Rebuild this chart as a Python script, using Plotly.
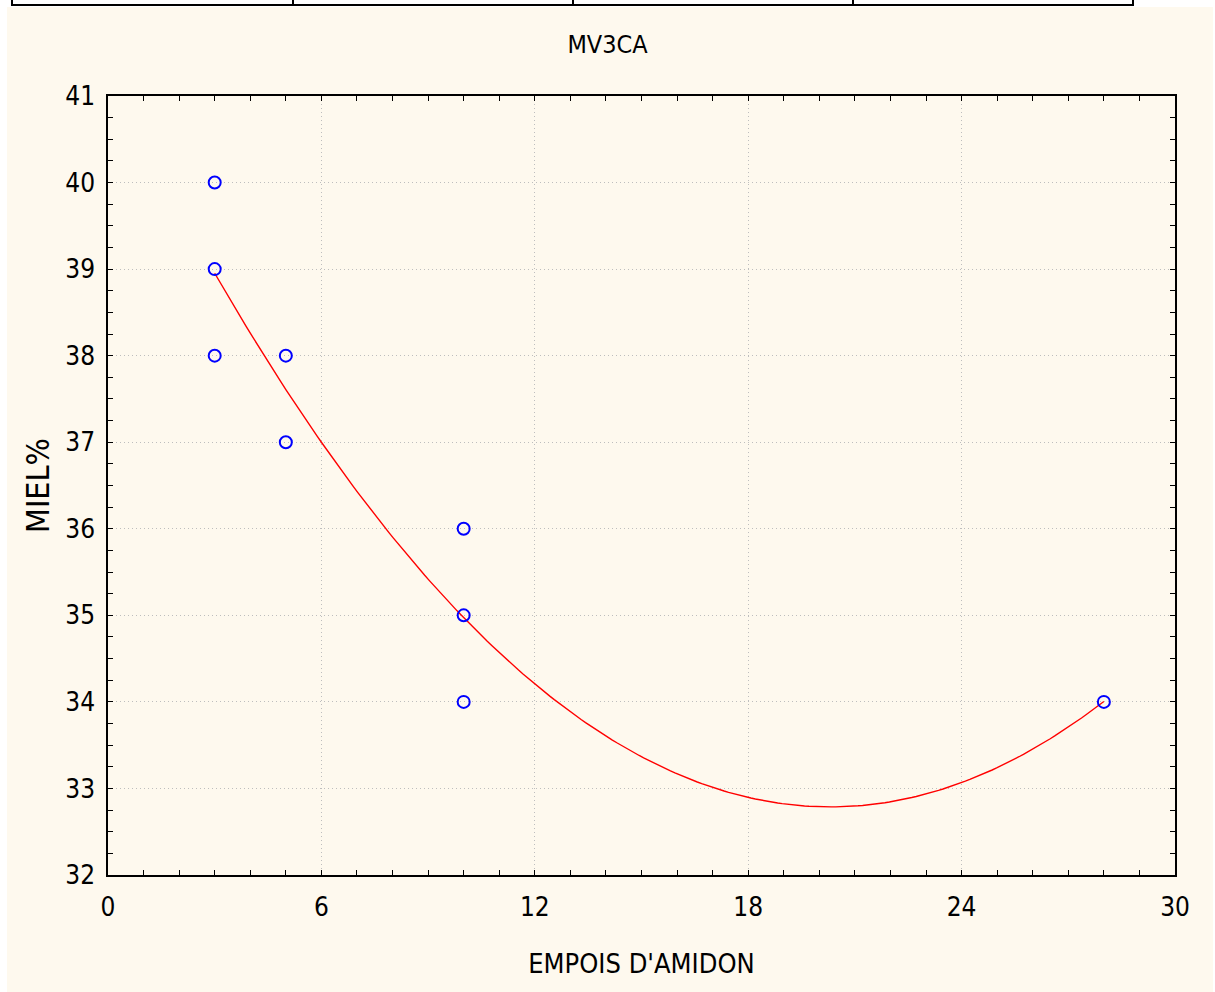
import numpy as np
import plotly.graph_objects as go

# Observations: starch paste (EMPOIS D'AMIDON) vs honey content (MIEL %)
empois = [3, 3, 3, 5, 5, 10, 10, 10, 28]
miel = [40, 39, 38, 38, 37, 36, 35, 34, 34]

x_ticks = [0, 6, 12, 18, 24, 30]
y_ticks = [32, 33, 34, 35, 36, 37, 38, 39, 40, 41]

# Quadratic least-squares fit drawn over the observed range
coef = np.polyfit(empois, miel, 2)
xf = np.linspace(min(empois), max(empois), 200)
yf = np.polyval(coef, xf)

W, H = 1215, 992
L, R, T, B = 108, 40, 96, 117
PW, PH = W - L - R, H - T - B


def px(x):
    return (x - L) / PW


def py(y):
    return (H - B - y) / PH


FONT = "Liberation Sans Narrow, DejaVu Sans Condensed, Arial Narrow, sans-serif"
CREAM = "#FEF9EE"

fig = go.Figure()
fig.add_trace(go.Scatter(x=xf, y=yf, mode="lines",
                         line=dict(color="#FF0000", width=1.4),
                         hoverinfo="skip", showlegend=False))
fig.add_trace(go.Scatter(x=empois, y=miel, mode="markers",
                         marker=dict(symbol="circle-open", size=12,
                                     color="#0000FF", line=dict(width=2)),
                         showlegend=False))

shapes = [
    # cream page panel
    dict(type="rect", xref="paper", yref="paper", layer="below",
         x0=px(7), x1=px(1213), y0=py(992), y1=py(7),
         fillcolor=CREAM, line=dict(width=0)),
    # table rule across the top
    dict(type="line", xref="paper", yref="paper",
         x0=px(11), x1=px(1134), y0=py(5), y1=py(5),
         line=dict(color="black", width=2)),
]
for vx in [12, 293, 573, 853, 1133]:
    shapes.append(dict(type="line", xref="paper", yref="paper",
                       x0=px(vx), x1=px(vx), y0=py(0), y1=py(6),
                       line=dict(color="black", width=2)))

axis_common = dict(
    showline=True, linecolor="black", linewidth=1.5, mirror="allticks",
    ticks="inside", ticklen=5, tickcolor="black", tickwidth=1,
    showgrid=True, gridcolor="#BEBEBE", griddash="1px,3px", gridwidth=1,
    zeroline=False,
    tickfont=dict(family=FONT, size=26, color="black"),
)

fig.update_layout(
    width=W, height=H,
    margin=dict(l=L, r=R, t=T, b=B),
    paper_bgcolor="white", plot_bgcolor="white",
    shapes=shapes,
    title=dict(text="MV3CA", x=0.5, xanchor="center", y=1 - 44 / H,
               yanchor="middle",
               font=dict(family=FONT, size=25, color="black")),
    xaxis=dict(axis_common, range=[0, 30], tickvals=x_ticks,
               ticklabelstandoff=8,
               minor=dict(dtick=1, ticklen=5, ticks="inside",
                          tickcolor="black", showgrid=False),
               title=dict(text="EMPOIS D'AMIDON", standoff=33,
                          font=dict(family=FONT, size=27, color="black"))),
    yaxis=dict(axis_common, range=[32, 41], tickvals=y_ticks,
               ticklabelstandoff=6,
               minor=dict(dtick=0.25, ticklen=5, ticks="inside",
                          tickcolor="black", showgrid=False),
               title=dict(text="MIEL%", standoff=6,
                          font=dict(family=FONT, size=32, color="black"))),
)

fig.write_html("out.html")
